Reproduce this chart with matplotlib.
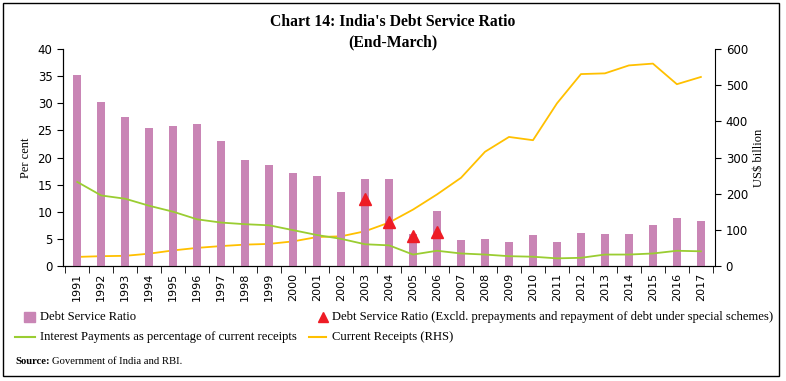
import numpy as np
import matplotlib.pyplot as plt
from matplotlib.lines import Line2D
from matplotlib.patches import Rectangle

# Data
years = [str(y) for y in range(1991, 2018)]
dsr = [35.3, 30.2, 27.5, 25.4, 25.9, 26.2, 23.0, 19.5, 18.7, 17.1, 16.6, 13.7, 16.0,
       16.1, 5.9, 10.1, 4.7, 4.9, 4.4, 5.8, 4.4, 6.1, 5.9, 5.9, 7.6, 8.8, 8.3]
dsr_excl_years = ['2003', '2004', '2005', '2006']
dsr_excl = [12.3, 8.1, 5.5, 6.3]
interest = [15.5, 13.0, 12.4, 11.1, 10.0, 8.6, 8.0, 7.7, 7.5, 6.6, 5.7, 5.0, 4.0,
            3.8, 2.1, 2.8, 2.3, 2.1, 1.8, 1.7, 1.4, 1.5, 2.1, 2.1, 2.3, 2.8, 2.7]
receipts = [25, 27, 28, 34, 43, 50, 55, 59, 61, 68, 80, 82, 96,
            120, 156, 198, 244, 316, 357, 348, 450, 531, 533, 555, 560, 503, 523]

bar_col = '#C985B5'
green = '#9ACD32'
yellow = '#FFC000'
red = '#EE1C25'
serif = 'Liberation Serif'
sans = 'DejaVu Sans'

W, H = 786, 381
fig = plt.figure(figsize=(W / 100, H / 100), dpi=100)
ax = fig.add_axes([0.080, 0.302, 0.830, 0.569])
ax2 = ax.twinx()

x = np.arange(len(years))
ax.bar(x, dsr, width=0.33, color=bar_col, zorder=2)
ax.plot(x, interest, color=green, lw=1.3, zorder=3)
ex_idx = [years.index(y) for y in dsr_excl_years]
ax2.plot(x, receipts, color=yellow, lw=1.3, zorder=3)
ax.set_zorder(ax2.get_zorder() + 1)
ax.patch.set_visible(False)
ax.plot(ex_idx, dsr_excl, linestyle='none', marker='^', color=red, ms=9, zorder=5)

ax.set_xlim(-0.6, len(years) - 0.4)
ax.set_ylim(0, 40)
ax2.set_ylim(0, 600)
ax.set_yticks(range(0, 41, 5))
ax2.set_yticks(range(0, 601, 100))

ax.set_xticks(x)
ax.set_xticklabels(years, rotation=90, fontsize=8, family=sans)
ax.set_xticks(np.arange(-0.5, len(years), 1), minor=True)
ax.tick_params(axis='x', which='major', length=0, pad=5)
ax.tick_params(axis='x', which='minor', length=5, direction='out')
ax.tick_params(axis='y', direction='out', length=4, labelsize=8.5)
ax2.tick_params(axis='y', direction='out', length=4, labelsize=8.5)

for a in (ax, ax2):
    a.spines['top'].set_visible(False)
    for s in a.spines.values():
        s.set_linewidth(0.8)
ax.spines['right'].set_visible(False)

ax.set_ylabel('Per cent', fontsize=9, family=serif)
ax2.set_ylabel('US$ billion', fontsize=9, family=serif)

# Title
fig.text(0.5, 0.943, "Chart 14: India's Debt Service Ratio", ha='center', va='center',
         fontsize=11.3, fontweight='bold', family=serif)
fig.text(0.5, 0.890, "(End-March)", ha='center', va='center',
         fontsize=11.3, fontweight='bold', family=serif)

# Legend (placed by hand, in pixels from top-left)
def fx(px):
    return px / W


def fy(py):
    return 1 - py / H


row1, row2 = 317, 337
fig.add_artist(Rectangle((fx(24), fy(row1 + 5)), fx(11) , 10 / H, color=bar_col,
                         transform=fig.transFigure))
fig.add_artist(Line2D([fx(323)], [fy(row1)], ls='none', marker='^', color=red, ms=6.5,
                      transform=fig.transFigure))
fig.add_artist(Line2D([fx(15), fx(35)], [fy(row2)] * 2, color=green, lw=1.5,
                      transform=fig.transFigure))
fig.add_artist(Line2D([fx(309), fx(326)], [fy(row2)] * 2, color=yellow, lw=1.5,
                      transform=fig.transFigure))
leg_kw = dict(fontsize=9.1, family=serif, va='center')
fig.text(fx(40), fy(row1), 'Debt Service Ratio', **leg_kw)
fig.text(fx(332), fy(row1),
         'Debt Service Ratio (Excld. prepayments and repayment of debt under special schemes)', **leg_kw)
fig.text(fx(40), fy(row2), 'Interest Payments as percentage of current receipts', **leg_kw)
fig.text(fx(332), fy(row2), 'Current Receipts (RHS)', **leg_kw)

fig.text(fx(15), fy(362), 'Source:', fontsize=7.7, family=serif, fontweight='bold', va='center')
fig.text(fx(52), fy(362), 'Government of India and RBI.', fontsize=7.7, family=serif, va='center')

# Border
fig.patches.append(Rectangle((fx(3), fy(376)), fx(776), 373 / H, transform=fig.transFigure,
                             fill=False, edgecolor='black', lw=1.0))

fig.savefig('out.png', dpi=100)
